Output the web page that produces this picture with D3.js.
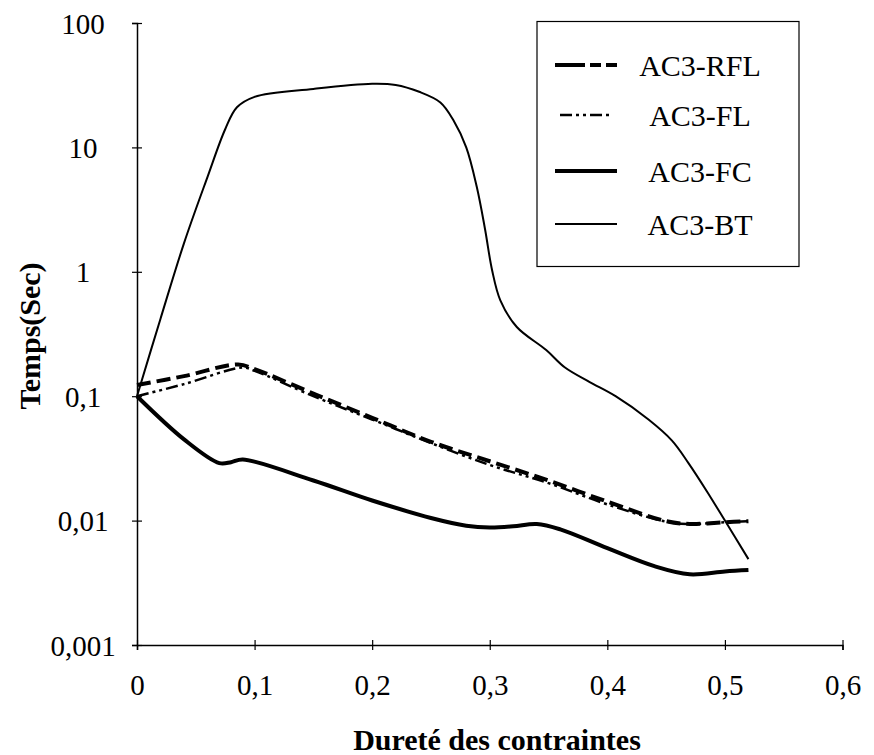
<!DOCTYPE html>
<html>
<head>
<meta charset="utf-8">
<script src="https://cdn.jsdelivr.net/npm/d3@7"></script>
</head>
<body style="margin:0">
<div id="root"></div>
<script>
var w = 874,
    h = 755;

// data
var xBT  = [0, 0.02, 0.04, 0.06, 0.075, 0.085, 0.1, 0.15, 0.2, 0.22, 0.24, 0.258, 0.269, 0.28, 0.289, 0.296, 0.302, 0.309, 0.323, 0.348, 0.364, 0.385, 0.407, 0.435, 0.455, 0.469, 0.485, 0.5, 0.52];
var yBT  = [0.1, 0.42, 1.7, 5.8, 14, 21, 25.5, 29.5, 32.5, 31.8, 28, 23, 16.6, 10, 4.8, 2.2, 1.03, 0.59, 0.36, 0.235, 0.17, 0.13, 0.1, 0.065, 0.044, 0.029, 0.017, 0.01, 0.0049];

var xFC  = [0, 0.04, 0.07, 0.08, 0.09, 0.15, 0.2, 0.25, 0.28, 0.3, 0.32, 0.34, 0.36, 0.4, 0.44, 0.47, 0.5, 0.52];
var yFC  = [0.1, 0.045, 0.029, 0.0295, 0.031, 0.021, 0.0145, 0.0105, 0.0091, 0.0088, 0.009, 0.0094, 0.0085, 0.006, 0.0043, 0.0037, 0.0039, 0.004];

var xRFL = [0, 0.04, 0.086, 0.1, 0.15, 0.2, 0.25, 0.3, 0.35, 0.4, 0.45, 0.47, 0.5, 0.52];
var yRFL = [0.123, 0.145, 0.18, 0.165, 0.105, 0.067, 0.043, 0.03, 0.021, 0.0142, 0.0099, 0.0094, 0.0097, 0.0099];

var xFL  = [0, 0.04, 0.09, 0.1, 0.15, 0.2, 0.25, 0.3, 0.35, 0.4, 0.45, 0.47, 0.5, 0.52];
var yFL  = [0.1, 0.125, 0.17, 0.16, 0.1, 0.065, 0.042, 0.028, 0.02, 0.0135, 0.0098, 0.0094, 0.0097, 0.0099];

var xTicks = [0, 0.1, 0.2, 0.3, 0.4, 0.5, 0.6];
var yTicks = [0.001, 0.01, 0.1, 1, 10, 100];

var seriesNames = ['AC3-RFL', 'AC3-FL', 'AC3-FC', 'AC3-BT'];

var series = [
  { name: 'AC3-RFL', xs: xRFL, ys: yRFL, width: 4,   dash: '14,6' },
  { name: 'AC3-FL',  xs: xFL,  ys: yFL,  width: 2.5, dash: '12,4,3,4,3,4' },
  { name: 'AC3-FC',  xs: xFC,  ys: yFC,  width: 4,   dash: null },
  { name: 'AC3-BT',  xs: xBT,  ys: yBT,  width: 2,   dash: null }
];
var legendDash = ['30,5,11,5,11,5', '12,4,3,4,3,4', null, null];
var legendLen = [62, 50, 62, 62];
var legendX0 = [555, 560, 555, 555];

var serif = "'Times New Roman'";
var fmt = function (v) { return String(v).replace('.', ','); };

var svg = d3.select('#root')
  .append('svg')
    .attr('width', w)
    .attr('height', h)
    .style('font-family', serif);

var x = d3.scaleLinear().domain([0, 0.6]).range([137, 842.5]);
var y = d3.scaleLog().domain([0.001, 100]).range([645, 23]);

// axes
var xAxis = svg.append('g')
    .attr('transform', 'translate(0,' + y(0.001) + ')')
    .call(d3.axisBottom(x).tickValues(xTicks).tickSize(5).tickFormat(fmt))
    .attr('font-family', null)
    .attr('font-size', null);
xAxis.selectAll('.tick line').attr('y1', -5);
xAxis.selectAll('.tick text')
    .attr('y', 50).attr('dy', 0);

var yAxis = svg.append('g')
    .attr('transform', 'translate(' + x(0) + ',0)')
    .call(d3.axisLeft(y).tickValues(yTicks).tickSize(5).tickFormat(fmt))
    .attr('font-family', null)
    .attr('font-size', null);
yAxis.selectAll('.tick line').attr('x1', 5);
yAxis.selectAll('.tick text')
    .attr('x', -54).attr('dy', 10)
    .attr('text-anchor', 'middle');

svg.selectAll('.tick text')
    .style('font-family', serif)
    .style('font-size', '29px')
    .style('fill', '#000');
svg.selectAll('.domain').attr('stroke', '#000').attr('stroke-width', 1.5);
svg.selectAll('.tick line').attr('stroke', '#000').attr('stroke-width', 1.2);

// axis titles
svg.append('text')
    .attr('x', 497)
    .attr('y', 750)
    .attr('text-anchor', 'middle')
    .style('font-family', serif)
    .style('font-size', '30px')
    .style('font-weight', 'bold')
    .text('Dureté des contraintes');

svg.append('text')
    .attr('transform', 'translate(40,336) rotate(-90)')
    .attr('text-anchor', 'middle')
    .style('font-family', serif)
    .style('font-size', '30px')
    .style('font-weight', 'bold')
    .text('Temps(Sec)');

// curves
var line = d3.line()
  .x(function (d) { return x(d[0]); })
  .y(function (d) { return y(d[1]); })
  .curve(d3.curveCatmullRom.alpha(0.5));

svg.selectAll('.curve')
    .data(series)
  .enter().append('path')
    .attr('class', 'curve')
    .attr('fill', 'none')
    .attr('stroke', '#000')
    .attr('stroke-width', function (d) { return d.width; })
    .attr('stroke-dasharray', function (d) { return d.dash; })
    .attr('d', function (d) {
      return line(d.xs.map(function (v, i) { return [v, d.ys[i]]; }));
    });

// legend
var legend = svg.append('g');
legend.append('rect')
    .attr('x', 537).attr('y', 21.5)
    .attr('width', 262).attr('height', 245)
    .attr('fill', '#fff')
    .attr('stroke', '#000')
    .attr('stroke-width', 1.2);

var rowY = [65, 115, 171, 224];
var item = legend.selectAll('.item')
    .data(series)
  .enter().append('g')
    .attr('class', 'item');

item.append('line')
    .attr('x1', function (d, i) { return legendX0[i]; })
    .attr('x2', function (d, i) { return legendX0[i] + legendLen[i]; })
    .attr('y1', function (d, i) { return rowY[i]; })
    .attr('y2', function (d, i) { return rowY[i]; })
    .attr('stroke', '#000')
    .attr('stroke-width', function (d) { return d.width; })
    .attr('stroke-dasharray', function (d, i) { return legendDash[i]; });

item.append('text')
    .attr('x', 700)
    .attr('y', function (d, i) { return rowY[i] + 11; })
    .attr('text-anchor', 'middle')
    .style('font-family', serif)
    .style('font-size', '30px')
    .text(function (d, i) { return seriesNames[i]; });
</script>
</body>
</html>
